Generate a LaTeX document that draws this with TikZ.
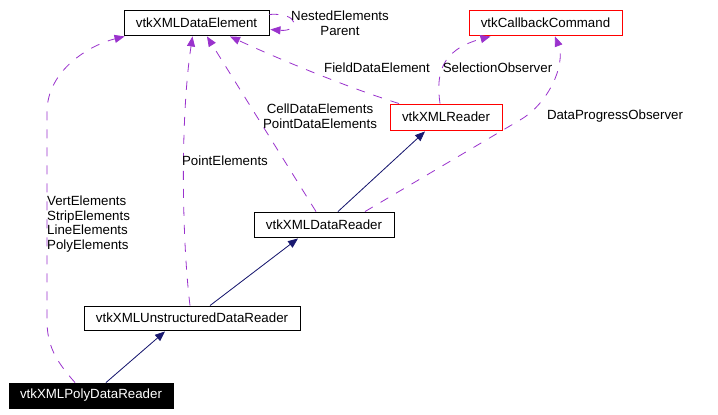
\documentclass[tikz,border=0pt]{standalone}
\usepackage{fontspec}
\setmainfont{Liberation Sans}
\usetikzlibrary{arrows.meta,calc}
\definecolor{edgepurple}{HTML}{9A32CD}
\definecolor{edgenavy}{HTML}{191970}
\begin{document}
\begin{tikzpicture}[x=1pt,y=-1pt,
  every node/.style={font=\fontsize{13.3}{14.5}\selectfont},
  cls/.style={draw=black,line width=0.9pt,fill=white,inner sep=0pt,minimum height=25pt},
  redcls/.style={cls,draw=red},
  focus/.style={cls,fill=black,text=white},
  inherit/.style={draw=edgenavy,line width=0.8pt,-{Triangle[length=10pt,width=8pt]},fill=edgenavy},
  uses/.style={draw=edgepurple,line width=0.8pt,dash pattern=on 9pt off 9pt,-{Triangle[length=10pt,width=8pt,fill=edgepurple]}},
  lbl/.style={inner sep=0pt,align=center}]
\useasboundingbox[fill=white] (0,0) rectangle (718,415);

\node[cls,minimum width=145pt] (de) at (196.5,22.5) {vtkXMLDataElement};
\node[redcls,minimum width=153pt] (cb) at (545.5,22.5) {vtkCallbackCommand};
\node[redcls,minimum width=112pt,minimum height=26pt] (xr) at (446,117) {vtkXMLReader};
\node[cls,minimum width=140pt] (dr) at (324,224.5) {vtkXMLDataReader};
\node[cls,minimum width=216pt,minimum height=24pt] (ur) at (192,318) {vtkXMLUnstructuredDataReader};
\node[focus,minimum width=164pt] (pr) at (91,395.5) {vtkXMLPolyDataReader};

% inheritance
\draw[inherit] ($(pr.north)+(15,0)$) -- ($(ur.south)+(-27,1)$);
\draw[inherit] ($(ur.north)+(18,0)$) -- ($(dr.south)+(-26,1)$);
\draw[inherit] ($(dr.north)+(14,0)$) -- ($(xr.south)+(-21,1)$);

% usage
\draw[uses] ($(pr.north)+(-16,0)$) .. controls (55,360) and (47,345) .. (47,320) -- (47,112) .. controls (47,70) and (90,45) .. ($(de.south west)+(1,1)$);
\draw[uses] ($(ur.north)+(-2,0)$) .. controls (182,240) and (180,120) .. ($(de.south)+(-4,1)$);
\draw[uses] ($(dr.north)+(-8,0)$) -- ($(de.south)+(10.5,1)$);
\draw[uses] ($(xr.north)+(-47,0)$) .. controls (340,85) and (270,55) .. ($(de.south)+(33.5,1)$);
\draw[uses] ($(de.east)+(0,-8)$) .. controls (300,12) and (300,32) .. ($(de.east)+(1,7)$);
\draw[uses] ($(xr.north)+(-6,0)$) .. controls (436,75) and (440,50) .. ($(cb.south)+(-55,1)$);
\draw[uses] ($(dr.north)+(41,0)$) -- (520,120) .. controls (548,104) and (566,65) .. ($(cb.south)+(9.5,1)$);

% labels
\node[lbl] (l1) at (340,23) {NestedElements\\Parent};
\node[lbl] (l2) at (377,68) {FieldDataElement};
\node[lbl] (l3) at (497.5,68) {SelectionObserver};
\node[lbl] (l4) at (615,116) {DataProgressObserver};
\node[lbl] (l5) at (320,116) {CellDataElements\\PointDataElements};
\node[lbl] (l6) at (225,161) {PointElements};
\node[lbl,align=left,anchor=west] (l7) at (47,224) {VertElements\\StripElements\\LineElements\\PolyElements};
\end{tikzpicture}
\end{document}
